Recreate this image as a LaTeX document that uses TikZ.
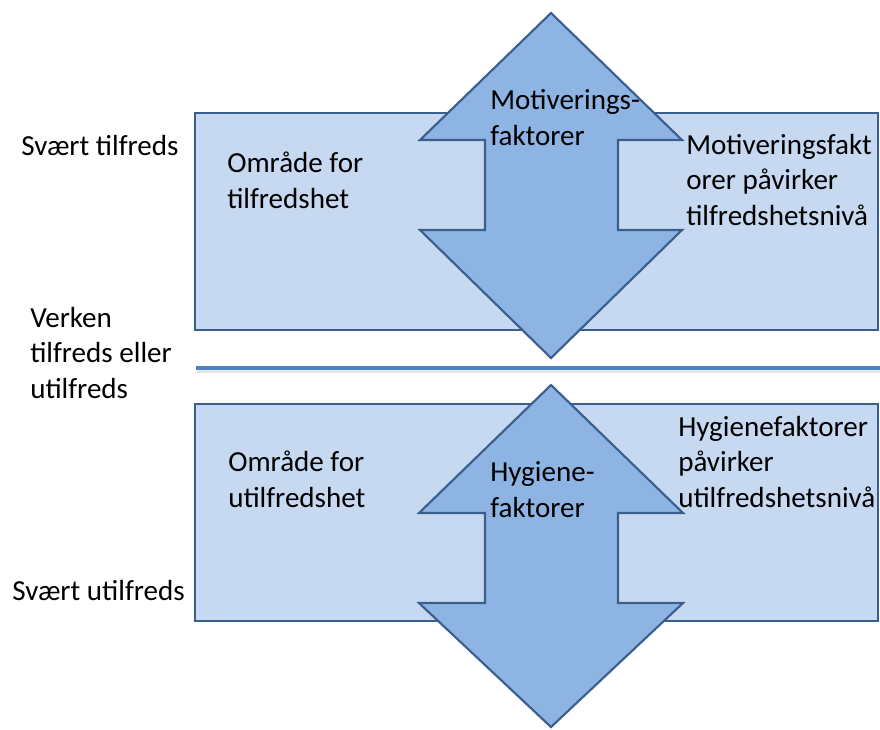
\documentclass[tikz,border=0pt]{standalone}
\usepackage{fontspec}
\setmainfont{Carlito}
\definecolor{boxfill}{HTML}{C6D9F1}
\definecolor{arrowfill}{HTML}{8EB4E3}
\definecolor{edge}{HTML}{3A5F8E}
\definecolor{sepline}{HTML}{4F81BD}
\begin{document}
\begin{tikzpicture}[x=0.75pt,y=-0.75pt,
  zone/.style={fill=boxfill,draw=edge,line width=1.6pt},
  dblarrow/.style={fill=arrowfill,draw=edge,line width=1.6pt,line join=miter},
  lbl/.style={anchor=base west,inner sep=0pt,align=left,font=\fontsize{21.8}{26.4}\selectfont}]
\useasboundingbox (0,0) rectangle (880,729);
% top zone
\path[zone] (195,113) rectangle (878,330);
\path[dblarrow] (551,13) -- (682,140) -- (618,140) -- (618,230) -- (682,230) -- (551,358)
  -- (420,230) -- (485,230) -- (485,140) -- (420,140) -- cycle;
% separator
\draw[line width=3pt,color=black!10] (197,370.5) -- (880,370.5);
\draw[line width=3pt,color=sepline] (196,367.5) -- (880,367.5);
% bottom zone
\path[zone] (195,404) rectangle (878,621);
\path[dblarrow] (551,385) -- (683,513) -- (618,513) -- (618,603) -- (683,603) -- (551,727)
  -- (419,603) -- (485,603) -- (485,513) -- (419,513) -- cycle;
% labels (anchor at baseline of the last line)
\node[lbl] (st) at (21,155) {Svært tilfreds};
\node[lbl] (vk) at (30,398) {Verken\\tilfreds eller\\utilfreds};
\node[lbl] (su) at (12,600) {Svært utilfreds};
\node[lbl] (ot) at (227,208) {Område for\\tilfredshet};
\node[lbl] (mf) at (490,145) {Motiverings-\\faktorer};
\node[lbl] (mp) at (686,225) {Motiveringsfakt\\orer påvirker\\tilfredshetsnivå};
\node[lbl] (ou) at (228,507) {Område for\\utilfredshet};
\node[lbl] (hf) at (490,517) {Hygiene-\\faktorer};
\node[lbl] (hp) at (678,507) {Hygienefaktorer\\påvirker\\utilfredshetsnivå};
\end{tikzpicture}
\end{document}
